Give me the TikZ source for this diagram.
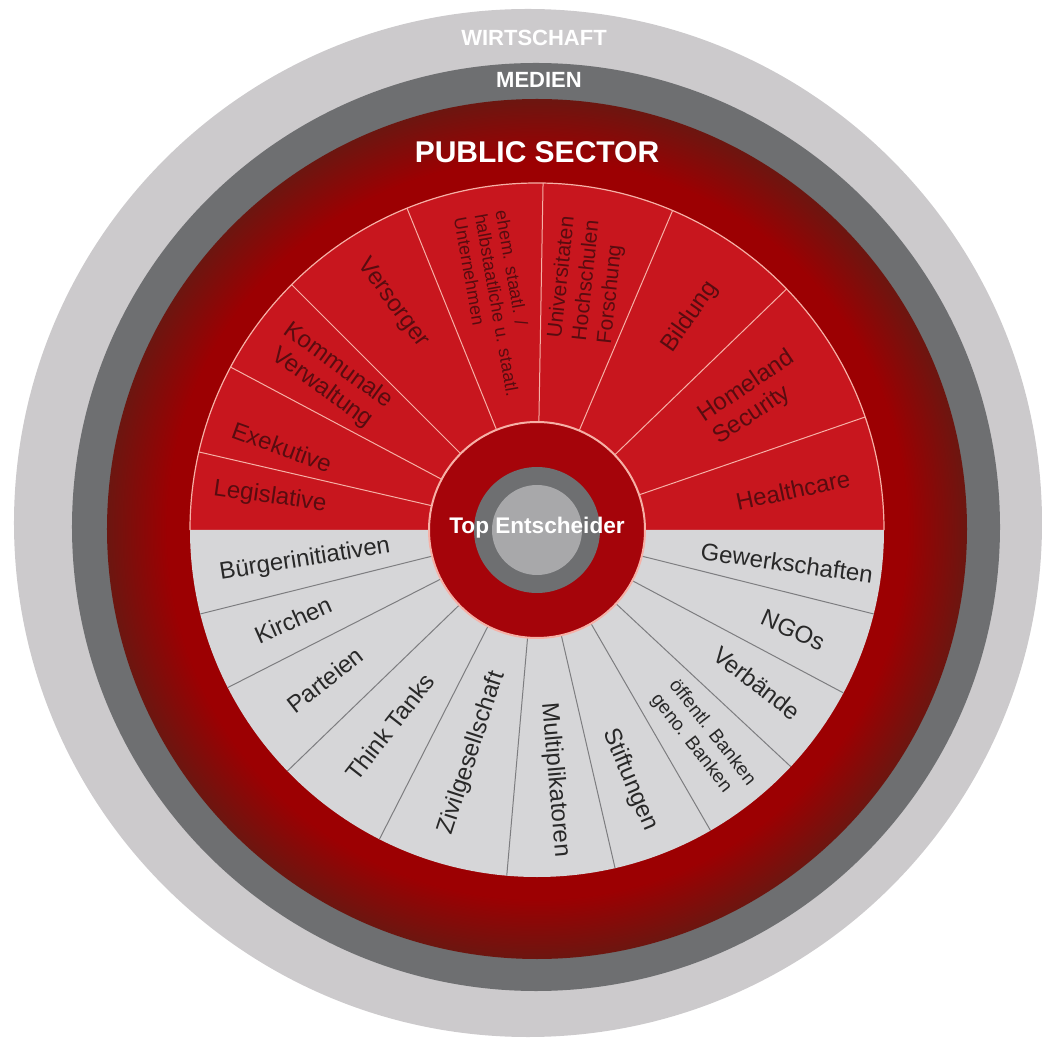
\documentclass[tikz,border=0pt]{standalone}
\usepackage{fontspec}
\setmainfont{Liberation Sans}
\usepackage{tikz}
\usetikzlibrary{calc}

\definecolor{wirtgray}{RGB}{204,202,204}
\definecolor{medgray}{RGB}{110,111,113}
\definecolor{ringin}{RGB}{156,0,2}
\definecolor{ringout}{RGB}{108,22,16}
\definecolor{secred}{RGB}{200,22,30}
\definecolor{secgray}{RGB}{214,214,216}
\definecolor{redtxt}{RGB}{88,12,16}
\definecolor{graytxt}{RGB}{40,40,40}
\definecolor{redline}{RGB}{246,176,166}
\definecolor{grayline}{RGB}{125,125,128}
\definecolor{hubred}{RGB}{165,4,10}
\definecolor{hubgray}{RGB}{168,168,170}
\pgfdeclareradialshading{ringshade}{\pgfpoint{0bp}{0bp}}{color(0bp)=(ringin); color(21.5bp)=(ringin); color(25bp)=(ringout); color(50bp)=(ringout)}

\begin{document}
\begin{tikzpicture}[x=0.5pt, y=0.5pt,
  redlbl/.style={text=redtxt, font=\fontsize{12}{13.5}\selectfont, inner sep=0pt},
  graylbl/.style={text=graytxt, font=\fontsize{12}{13.5}\selectfont, inner sep=0pt},
  ringlbl/.style={text=white, font=\bfseries\fontsize{11}{13}\selectfont}]
  \useasboundingbox (-537,-513) rectangle (504,530);
  % rings
  \fill[wirtgray] (-9,7) circle (514);
  \fill[medgray] (-1,3) circle (464);
  \shade[shading=ringshade] (0,1) circle (430);
  \node[ringlbl] (wirt) at (-3,492) {WIRTSCHAFT};
  \node[ringlbl] (medien) at (2,450) {MEDIEN};
  \node[ringlbl, font=\bfseries\fontsize{15}{17}\selectfont] (pubsec) at (0,378) {PUBLIC SECTOR};
  % wheel
  \fill[secred] (347,0) arc (0:180:347) -- cycle;
  \fill[secgray] (-347,0) arc (180:360:347) -- cycle;
  \foreach \a in {19,44,67,89,112,135,152,167}
    \draw[redline, line width=0.5pt] (0,0) -- (\a:347);
  \foreach \a in {194,207,224,243,265,283,300,317,332,346}
    \draw[grayline, line width=0.5pt] (0,0) -- (\a:347);
  \draw[redline, line width=0.6pt] (347,0) arc (0:180:347);
  % hub
  \fill[hubred] (0,0) circle (108);
  \draw[redline, line width=1pt] (0,0) circle (108);
  \fill[medgray] (0,0) circle (63);
  \fill[hubgray] (0,0) circle (45);
  \node[text=white, font=\bfseries\fontsize{11.3}{13}\selectfont] (top) at (0,2) {Top Entscheider};
  % public sector
  \node[redlbl, rotate=-8] (legis) at (-267,33) {Legislative};
  \node[redlbl, rotate=-20] (exek) at (-255,83) {Exekutive};
  \node[redlbl, rotate=-36, align=center] (kommun) at (-207,153) {Kommunale\\Verwaltung};
  \node[redlbl, rotate=-54] (versorg) at (-144,227) {Versorger};
  \node[redlbl, rotate=-80, align=left, font=\fontsize{9}{10.5}\selectfont] (ehem) at (-40,225) {ehem. staatl. /\\halbstaatliche u. staatl.\\Unternehmen};
  \node[redlbl, rotate=84, align=left, font=\fontsize{10.5}{12.5}\selectfont] (univ) at (50,250) {Universitaten\\Hochschulen\\Forschung};
  \node[redlbl, rotate=55] (bildung) at (153,213) {Bildung};
  \node[redlbl, rotate=34, align=left] (homeland) at (217,132) {Homeland\\Security};
  \node[redlbl, rotate=12] (health) at (256,40) {Healthcare};
  % gesellschaft
  \node[graylbl, rotate=9] (buerger) at (-232,-30) {Bürgerinitiativen};
  \node[graylbl, rotate=24] (kirchen) at (-244,-90) {Kirchen};
  \node[graylbl, rotate=38] (parteien) at (-212,-150) {Parteien};
  \node[graylbl, rotate=52] (think) at (-147,-197) {Think Tanks};
  \node[graylbl, rotate=72] (zivil) at (-65,-223) {Zivilgesellschaft};
  \node[graylbl, rotate=-85] (multi) at (18,-250) {Multiplikatoren};
  \node[graylbl, rotate=-67] (stift) at (93,-250) {Stiftungen};
  \node[graylbl, rotate=-52, align=left, font=\fontsize{9.5}{11.5}\selectfont] (banken) at (166,-210) {öffentl. Banken\\geno. Banken};
  \node[graylbl, rotate=-38] (verb) at (220,-153) {Verbände};
  \node[graylbl, rotate=-24] (ngos) at (256,-100) {NGOs};
  \node[graylbl, rotate=-8] (gewerk) at (250,-33) {Gewerkschaften};
\end{tikzpicture}
\end{document}
